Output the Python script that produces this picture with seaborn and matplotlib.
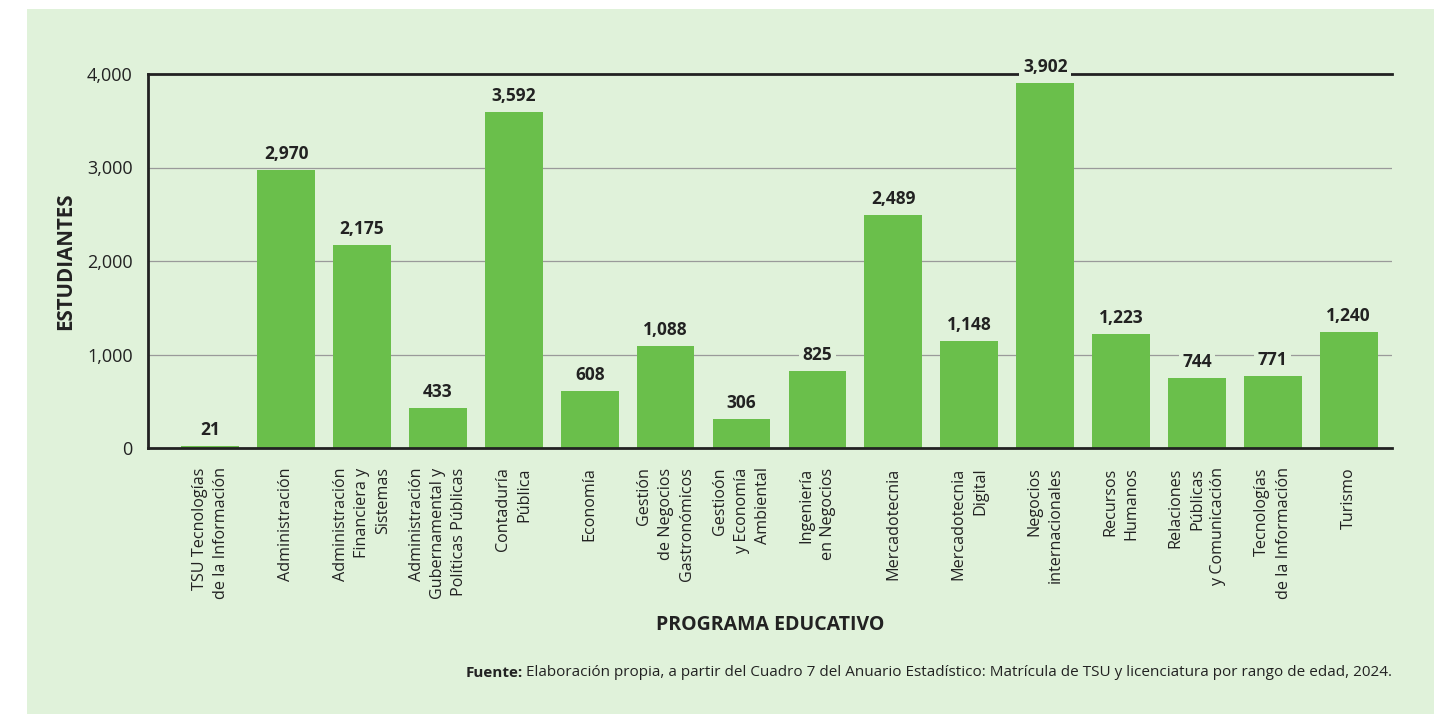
import matplotlib
matplotlib.use("Agg")
import matplotlib.pyplot as plt
import seaborn as sns
import pandas as pd
from matplotlib.patches import Rectangle

categories = [
    "TSU Tecnologías\nde la Información",
    "Administración",
    "Administración\nFinanciera y\nSistemas",
    "Administración\nGubernamental y\nPolíticas Públicas",
    "Contaduría\nPública",
    "Economía",
    "Gestión\nde Negocios\nGastronómicos",
    "Gestioón\ny Economía\nAmbiental",
    "Ingeniería\nen Negocios",
    "Mercadotecnia",
    "Mercadotecnia\nDigital",
    "Negocios\ninternacionales",
    "Recursos\nHumanos",
    "Relaciones\nPúblicas\ny Comunicación",
    "Tecnologías\nde la Información",
    "Turismo",
]
students = [21, 2970, 2175, 433, 3592, 608, 1088, 306, 825, 2489, 1148, 3902, 1223, 744, 771, 1240]
yticks = [0, 1000, 2000, 3000, 4000]
ytick_labels = ["0", "1,000", "2,000", "3,000", "4,000"]

PANEL = "#e0f2da"
BAR = "#6abf4b"
TXT = "#222222"
FONT = ["Open Sans", "DejaVu Sans"]

sns.set_style("white")
plt.rcParams["font.family"] = FONT

W, H = 1455, 714
fig = plt.figure(figsize=(W / 100, H / 100), dpi=100)
fig.patch.set_facecolor("white")
fig.patches.append(Rectangle((27 / W, 0), (1434 - 27) / W, (H - 9) / H,
                             transform=fig.transFigure, facecolor=PANEL,
                             edgecolor="none", zorder=-10))

ax = fig.add_axes([148 / W, (H - 448) / H, (1392 - 148) / W, (448 - 74) / H])
ax.set_facecolor("none")

df = pd.DataFrame({"programa": categories, "estudiantes": students})
sns.barplot(data=df, x="programa", y="estudiantes", color=BAR, width=0.76,
            saturation=1, ax=ax, zorder=2, edgecolor="none", linewidth=0)

ax.set_xlim(-0.82, len(categories) - 1 + 0.57)
ax.set_ylim(0, 4000)
ax.set_yticks(yticks)
ax.set_yticklabels(ytick_labels, fontsize=13, color=TXT)
ax.tick_params(axis="y", length=0, pad=11)
ax.tick_params(axis="x", length=0, pad=14)
ax.set_xticks(range(len(categories)))
ax.set_xticklabels(categories, rotation=90, ha="center", va="top",
                   multialignment="right", fontsize=11.6, color=TXT,
                   linespacing=1.45)

for y in yticks[1:-1]:
    ax.axhline(y, color="#9a9a9a", lw=0.9, zorder=1)

for side in ["left", "bottom", "top"]:
    ax.spines[side].set_visible(True)
    ax.spines[side].set_color("#222222")
    ax.spines[side].set_linewidth(2)
ax.spines["right"].set_visible(False)

for i, v in enumerate(students):
    ax.annotate(f"{v:,}", (i, v), xytext=(0, 5), textcoords="offset points",
                ha="center", va="bottom", fontsize=12.5, fontweight="bold",
                color=TXT, zorder=5,
                bbox=dict(boxstyle="square,pad=0.2", facecolor=PANEL,
                          edgecolor="none"),
                annotation_clip=False)

ax.set_xlabel("")
ax.set_ylabel("ESTUDIANTES", fontsize=14.8, fontweight="bold", color=TXT)
ax.yaxis.set_label_coords((76 - 148) / (1392 - 148), 0.5)

fig.text(770 / W, (H - 625) / H, "PROGRAMA EDUCATIVO", ha="center", va="center",
         fontsize=14, fontweight="bold", color=TXT)

fig.canvas.draw()
r = fig.canvas.get_renderer()
src = fig.text(1392 / W, (H - 673) / H,
               "Elaboración propia, a partir del Cuadro 7 del Anuario Estadístico: "
               "Matrícula de TSU y licenciatura por rango de edad, 2024.",
               ha="right", va="center", fontsize=11, color=TXT)
bb = src.get_window_extent(r)
fig.text((bb.x0 - 3) / W, (H - 673) / H, "Fuente:", ha="right", va="center",
         fontsize=11, fontweight="bold", color=TXT)

fig.savefig("out.png", dpi=100, facecolor="white")
